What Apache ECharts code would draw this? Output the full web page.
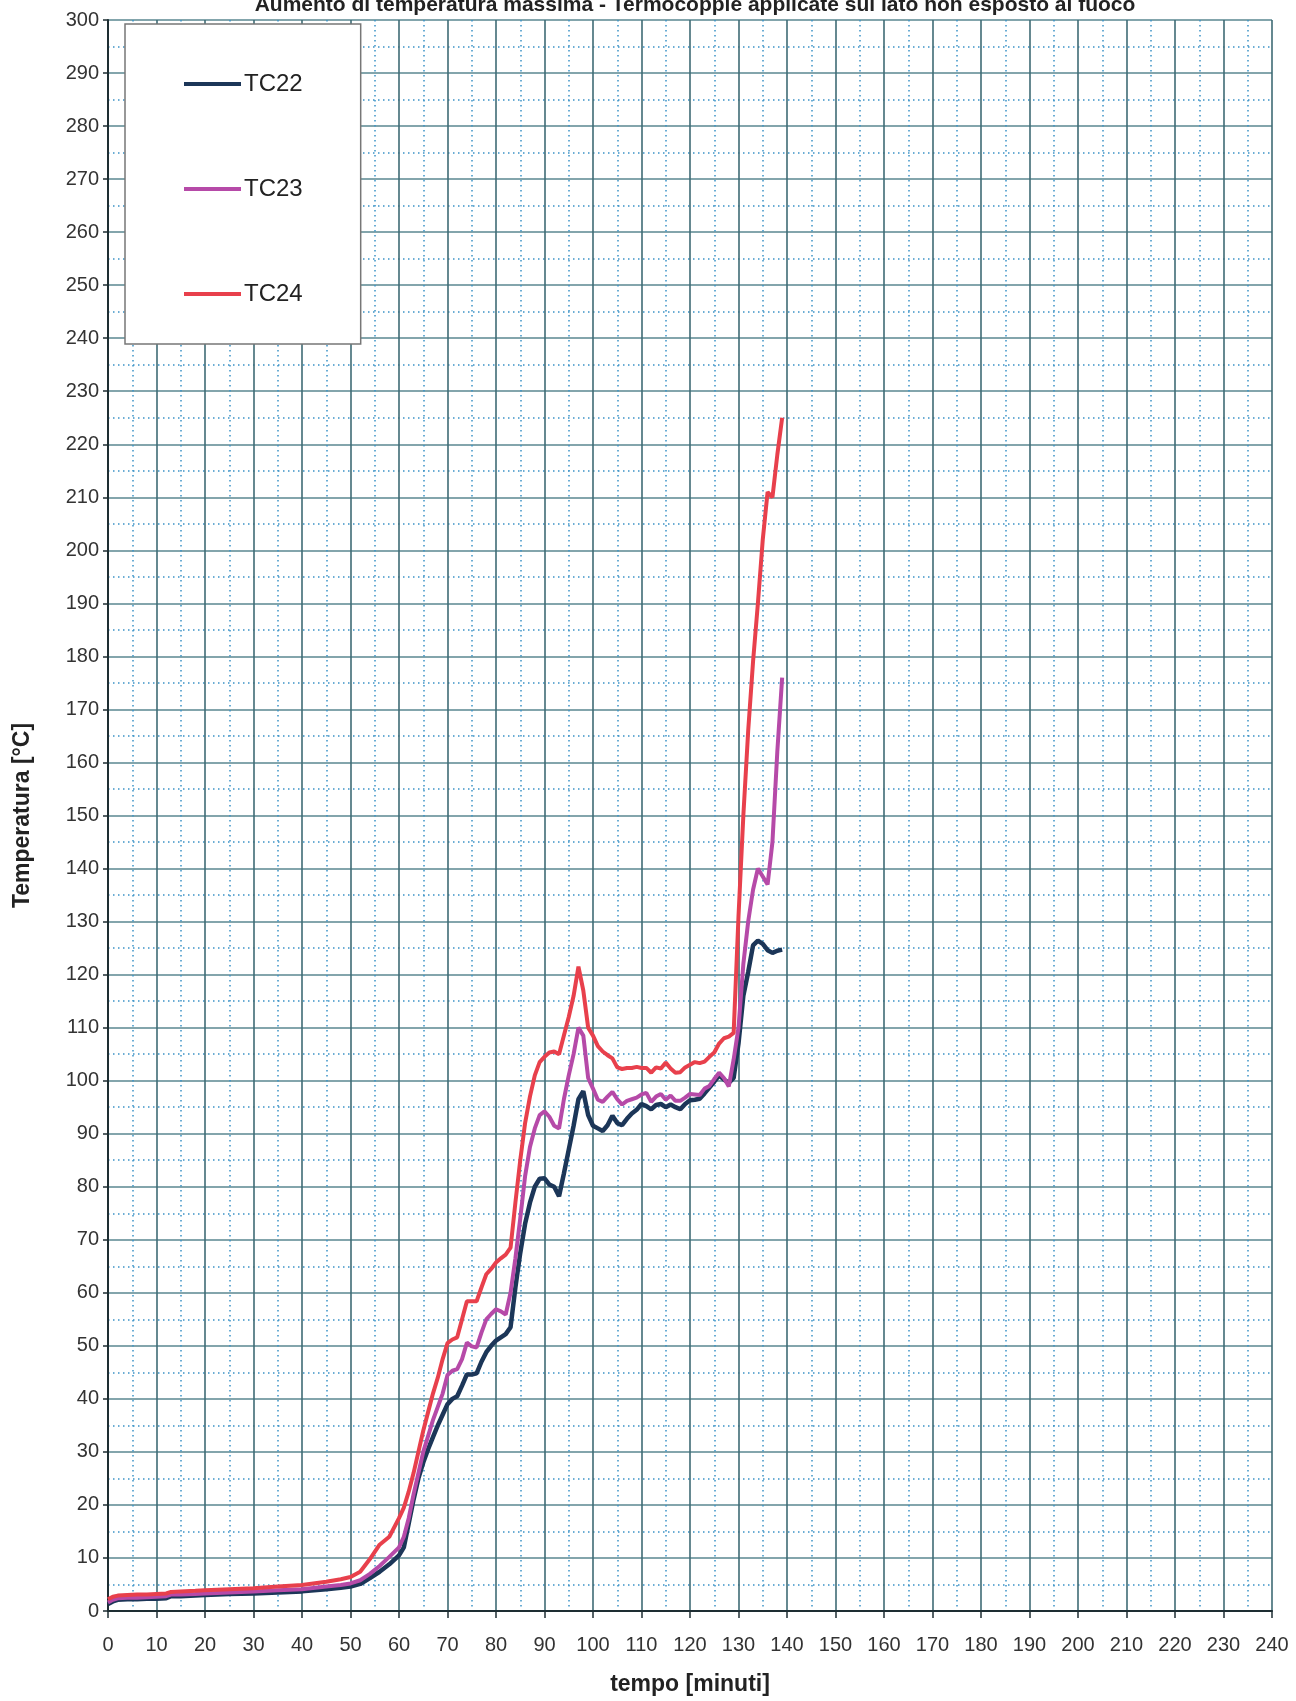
<!DOCTYPE html>
<html>
<head>
<meta charset="utf-8">
<script src="https://cdn.jsdelivr.net/npm/echarts@6/dist/echarts.min.js"></script>
<style>
html,body{margin:0;padding:0;background:#fff;}
#chart{width:1296px;height:1701px;}
</style>
</head>
<body>
<div id="chart"></div>
<script>
// ---- data ----
var titleText = 'Aumento di temperatura massima - Termocoppie applicate sul lato non esposto al fuoco';
var xAxisName = 'tempo [minuti]';
var yAxisName = 'Temperatura [°C]';
var seriesNames = ['TC22', 'TC23', 'TC24'];

var times = [0,1,2,4,6,8,10,12,13,15,18,20,25,30,35,40,45,48,50,52,54,56,58,
  60,61,62,63,64,65,66,67,68,69,70,71,72,73,74,75,76,77,78,79,
  80,81,82,83,84,85,86,87,88,89,90,91,92,93,94,95,96,97,98,99,
  100,101,102,103,104,105,106,107,108,109,110,111,112,113,114,115,116,117,118,119,
  120,121,122,123,124,125,126,127,128,129,130,131,132,133,134,135,136,137,138,139];

var tc22 = [1.3,1.8,2.1,2.2,2.2,2.3,2.3,2.4,2.8,2.8,2.9,3.0,3.2,3.3,3.5,3.7,4.1,4.4,4.6,5.1,6.2,7.4,8.8,
  10.5,12,16.5,21,25,28,30.5,32.8,35,37,39,40,40.5,42.5,44.6,44.6,44.8,47,48.8,50,
  51,51.6,52.2,53.5,61,67.5,73,77,80,81.5,81.6,80.4,80,78.2,82.5,87,91.5,96.5,98,93.5,
  91.5,91,90.5,91.6,93.4,92,91.6,92.8,93.8,94.5,95.6,95.2,94.6,95.4,95.6,95,95.5,95,94.6,95.6,
  96.3,96.4,96.6,97.6,98.7,99.8,101,100.2,99.6,100.5,107,116,120.5,125.5,126.4,125.8,124.6,124.1,124.5,124.7];

var tc23 = [1.6,2.1,2.4,2.5,2.5,2.6,2.7,2.8,3.1,3.1,3.2,3.3,3.5,3.7,3.9,4.1,4.6,4.9,5.2,5.8,7,8.5,10.2,
  12,14,17.5,22,26,30,33,36,38.5,41,44.5,45.3,45.6,47.5,50.6,49.9,49.7,52.5,55,56,
  56.9,56.5,55.9,60,66.5,74,82,87.5,91,93.5,94.2,93.2,91.5,91,96.5,101,105,110,108.5,100.5,
  98.5,96.4,96,97,97.9,96.5,95.5,96.2,96.5,96.8,97.4,97.7,96,97,97.5,96.4,97.2,96.2,96.2,96.8,
  97.5,97.4,97.3,98.5,99,100.3,101.5,100.5,98.9,104,110,122,130,136,140,138.5,137,145,162,176];

var tc24 = [2.2,2.7,2.9,3.0,3.1,3.1,3.2,3.3,3.6,3.7,3.8,3.9,4.1,4.3,4.6,4.9,5.5,6.0,6.4,7.4,9.8,12.5,14,
  17.5,19.5,22.5,26,30,34,37.5,41,44,47.5,50.5,51.2,51.6,55,58.4,58.4,58.4,61,63.5,64.5,
  65.7,66.5,67.2,68.5,77,85,92,97,101,103.5,104.5,105.3,105.5,105,108.5,112,116,121.5,117,110,
  108.5,106.5,105.5,104.8,104.2,102.5,102.2,102.4,102.4,102.6,102.4,102.4,101.5,102.5,102.3,103.4,102.3,101.5,101.6,102.5,
  103,103.5,103.3,103.6,104.5,105.3,107,108,108.3,109,131,150,166,179,190,202,211,210,218,225];

var colors = ['#1c3658', '#b64aa8', '#e8404c'];

function pairs(vals) { return times.map(function (t, i) { return [t, vals[i]]; }); }

var FONT = "'Liberation Sans', Arial, sans-serif";

var chart = echarts.init(document.getElementById('chart'), null, {renderer: 'canvas'});
var option = {
  backgroundColor: '#ffffff',
  animation: false,
  title: {
    text: titleText,
    left: 690, textAlign: 'center',
    top: -10,
    textStyle: {fontFamily: FONT, fontSize: 21, fontWeight: 'bold', color: '#222'}
  },
  grid: {left: 108, right: 24, top: 20, bottom: 89, containLabel: false},
  legend: {
    data: seriesNames,
    orient: 'vertical',
    left: 125, top: 24,
    backgroundColor: '#ffffff',
    borderColor: '#777777', borderWidth: 1.5, borderRadius: 0,
    padding: [48, 58, 38, 59],
    itemGap: 81,
    itemWidth: 57, itemHeight: 4,
    icon: 'rect',
    textStyle: {fontFamily: FONT, fontSize: 24, color: '#222', padding: [0, 0, 0, -2]}
  },
  xAxis: {
    type: 'value', min: 0, max: 240, interval: 10,
    name: xAxisName, nameLocation: 'middle', nameGap: 62,
    nameTextStyle: {fontFamily: FONT, fontSize: 23, fontWeight: 'bold', color: '#222'},
    axisLine: {show: true, onZero: false, lineStyle: {color: '#1e2e33', width: 2}},
    axisTick: {show: true, length: 7, lineStyle: {color: '#1e2e33', width: 1.5}},
    axisLabel: {fontFamily: FONT, fontSize: 20, color: '#333', margin: 24},
    splitLine: {show: true, lineStyle: {color: '#3f6b75', width: 1.6}},
    minorTick: {show: false, splitNumber: 2},
    minorSplitLine: {show: true, lineStyle: {color: '#3b92c6', width: 1.5, type: [1.5, 3.5]}}
  },
  yAxis: {
    type: 'value', min: 0, max: 300, interval: 10,
    name: yAxisName, nameLocation: 'middle', nameGap: 74, nameRotate: 90,
    nameTextStyle: {fontFamily: FONT, fontSize: 23, fontWeight: 'bold', color: '#222'},
    axisLine: {show: true, onZero: false, lineStyle: {color: '#1e2e33', width: 2}},
    axisTick: {show: true, length: 5, lineStyle: {color: '#1e2e33', width: 1.5}},
    axisLabel: {fontFamily: FONT, fontSize: 20, color: '#333', margin: 9},
    splitLine: {show: true, lineStyle: {color: '#5a8790', width: 1.6}},
    minorTick: {show: false, splitNumber: 2},
    minorSplitLine: {show: true, lineStyle: {color: '#3b92c6', width: 1.5, type: [1.5, 3.5]}}
  },
  series: seriesNames.map(function (n, i) {
    var vals = [tc22, tc23, tc24][i];
    return {
      name: n, type: 'line', data: pairs(vals),
      showSymbol: false, symbol: 'none',
      color: colors[i],
      lineStyle: {color: colors[i], width: i === 0 ? 4.5 : 4},
      z: 3 + i
    };
  })
};
chart.setOption(option);
</script>
</body>
</html>
